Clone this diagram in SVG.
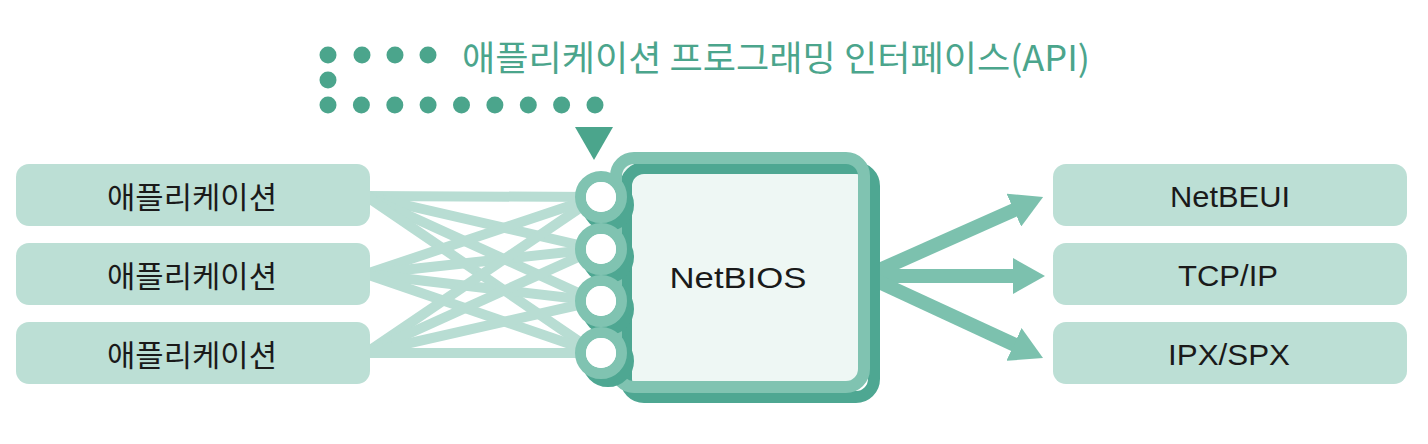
<svg xmlns="http://www.w3.org/2000/svg" width="1428" height="444" viewBox="0 0 1428 444">
<style>
.box{fill:#bcdfd5}
.lbl{font-family:"Noto Sans CJK KR","Liberation Sans",sans-serif;font-size:30px;fill:#1a1a1a;text-anchor:middle}
.en{font-family:"Liberation Sans",Arial,sans-serif;font-size:30px;fill:#1a1a1a;text-anchor:middle}
.link{stroke:#b8ddd3;stroke-width:10;fill:none}
.arrow{stroke:#7cc1ae;stroke-width:14;fill:none;marker-end:url(#ah)}
.dot{fill:#4ba58c}
.ring{fill:#ffffff;stroke:#80c3b1;stroke-width:11}
.ringsh{fill:none;stroke:#4ea792;stroke-width:11}
</style>
<defs>
<marker id="ah" markerUnits="userSpaceOnUse" markerWidth="32" markerHeight="36" refX="2" refY="18" orient="auto">
<path d="M0,0 L32,18 L0,36 z" fill="#7cc1ae"/>
</marker>
</defs>
<rect width="1428" height="444" fill="#ffffff"/>

<g id="api-label">
<circle class="dot" cx="328" cy="55" r="8.5"/>
<circle class="dot" cx="362" cy="55" r="8.5"/>
<circle class="dot" cx="395" cy="55" r="8.5"/>
<circle class="dot" cx="428" cy="55" r="8.5"/>
<circle class="dot" cx="328" cy="80" r="8.5"/>
<circle class="dot" cx="328" cy="105" r="8.5"/>
<circle class="dot" cx="361.4" cy="105" r="8.5"/>
<circle class="dot" cx="394.8" cy="105" r="8.5"/>
<circle class="dot" cx="428.1" cy="105" r="8.5"/>
<circle class="dot" cx="461.5" cy="105" r="8.5"/>
<circle class="dot" cx="494.9" cy="105" r="8.5"/>
<circle class="dot" cx="528.3" cy="105" r="8.5"/>
<circle class="dot" cx="561.6" cy="105" r="8.5"/>
<circle class="dot" cx="595" cy="105" r="8.5"/>
<polygon points="575,127 613,127 594,160" fill="#4ba58c"/>
<text x="462" y="71" font-family="'Noto Sans CJK KR','Liberation Sans',sans-serif" font-size="35" fill="#4ba58c" textLength="628" lengthAdjust="spacingAndGlyphs">애플리케이션 프로그래밍 인터페이스(API)</text>
</g>

<g id="connectors">
<line class="link" x1="366" y1="196" x2="596" y2="197"/>
<line class="link" x1="366" y1="196" x2="596" y2="249"/>
<line class="link" x1="366" y1="196" x2="596" y2="301"/>
<line class="link" x1="366" y1="196" x2="596" y2="353"/>
<line class="link" x1="366" y1="274" x2="596" y2="197"/>
<line class="link" x1="366" y1="274" x2="596" y2="249"/>
<line class="link" x1="366" y1="274" x2="596" y2="301"/>
<line class="link" x1="366" y1="274" x2="596" y2="353"/>
<line class="link" x1="366" y1="353" x2="596" y2="197"/>
<line class="link" x1="366" y1="353" x2="596" y2="249"/>
<line class="link" x1="366" y1="353" x2="596" y2="301"/>
<line class="link" x1="366" y1="353" x2="596" y2="353"/>
<line class="arrow" x1="866" y1="276" x2="1015.7" y2="209.3"/>
<line class="arrow" x1="866" y1="276" x2="1015" y2="276"/>
<line class="arrow" x1="866" y1="276" x2="1015.8" y2="345.3"/>
</g>

<g id="app1">
<rect class="box" x="16" y="164" width="354" height="62" rx="13"/>
<text class="lbl" x="192" y="208" textLength="170" lengthAdjust="spacingAndGlyphs">애플리케이션</text>
</g>
<g id="app2">
<rect class="box" x="16" y="243" width="354" height="62" rx="13"/>
<text class="lbl" x="192" y="287" textLength="170" lengthAdjust="spacingAndGlyphs">애플리케이션</text>
</g>
<g id="app3">
<rect class="box" x="16" y="322" width="354" height="62" rx="13"/>
<text class="lbl" x="192" y="366" textLength="170" lengthAdjust="spacingAndGlyphs">애플리케이션</text>
</g>

<g id="netbios">
<rect x="616" y="158" width="248" height="229" rx="18" fill="#eef7f4"/>
<rect x="626" y="168" width="248" height="229" rx="18" fill="none" stroke="#4ea792" stroke-width="12"/>
<rect x="616" y="158" width="248" height="229" rx="18" fill="none" stroke="#80c3b1" stroke-width="12"/>
<circle class="ringsh" cx="608" cy="205" r="20.5"/>
<circle class="ringsh" cx="608" cy="257" r="20.5"/>
<circle class="ringsh" cx="608" cy="309" r="20.5"/>
<circle class="ringsh" cx="608" cy="361" r="20.5"/>
<circle class="ring" cx="601" cy="197" r="20.5"/>
<circle class="ring" cx="601" cy="249" r="20.5"/>
<circle class="ring" cx="601" cy="301" r="20.5"/>
<circle class="ring" cx="601" cy="353" r="20.5"/>
<circle cx="601" cy="197" r="15" fill="#ffffff"/>
<circle cx="601" cy="249" r="15" fill="#ffffff"/>
<circle cx="601" cy="301" r="15" fill="#ffffff"/>
<circle cx="601" cy="353" r="15" fill="#ffffff"/>
<text class="en" x="738" y="288" textLength="137" lengthAdjust="spacingAndGlyphs">NetBIOS</text>
</g>

<g id="netbeui">
<rect class="box" x="1053" y="164" width="354" height="62" rx="13"/>
<text class="en" x="1230" y="207" textLength="120" lengthAdjust="spacingAndGlyphs">NetBEUI</text>
</g>
<g id="tcpip">
<rect class="box" x="1053" y="243" width="354" height="62" rx="13"/>
<text class="en" x="1228" y="286" textLength="100" lengthAdjust="spacingAndGlyphs">TCP/IP</text>
</g>
<g id="ipxspx">
<rect class="box" x="1053" y="322" width="354" height="62" rx="13"/>
<text class="en" x="1229" y="365" textLength="122" lengthAdjust="spacingAndGlyphs">IPX/SPX</text>
</g>
</svg>
